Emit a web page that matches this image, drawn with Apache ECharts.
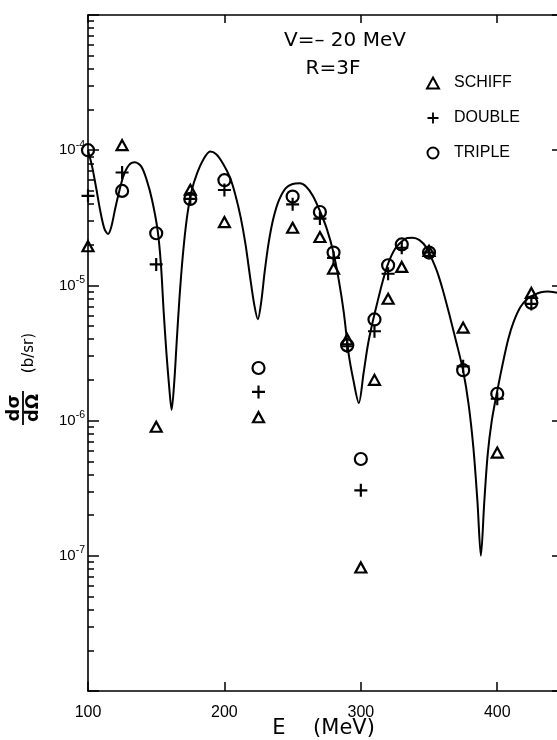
<!DOCTYPE html>
<html>
<head>
<meta charset="utf-8">
<script src="https://cdn.jsdelivr.net/npm/echarts@6/dist/echarts.min.js"></script>
<style>
html,body{margin:0;padding:0;background:#fff}
#c{width:557px;height:740px}
</style>
</head>
<body>
<div id="c"></div>
<script>
// ---- data ----
const energies = [100,125,150,175,200,225,250,270,280,290,300,310,320,330,350,375,400,425];
const schiff = [1.95e-5,1.09e-4,9.0e-7,5.1e-5,2.94e-5,1.06e-6,2.67e-5,2.28e-5,1.33e-5,4.0e-6,8.2e-8,2.0e-6,7.96e-6,1.37e-5,1.8e-5,4.87e-6,5.8e-7,8.8e-6];
const doubleScat = [4.6e-5,6.84e-5,1.43e-5,4.36e-5,5.08e-5,1.63e-6,3.98e-5,3.12e-5,1.6e-5,3.55e-6,3.05e-7,4.58e-6,1.22e-5,1.9e-5,1.75e-5,2.52e-6,1.45e-6,7.3e-6];
const tripleScat = [1.0e-4,5.0e-5,2.43e-5,4.36e-5,6.0e-5,2.45e-6,4.54e-5,3.49e-5,1.75e-5,3.6e-6,5.2e-7,5.6e-6,1.41e-5,2.01e-5,1.75e-5,2.36e-6,1.58e-6,7.45e-6];

const curveE = [100,103,106,109,112,114.7,117,120,123,126,130,134.4,139,143,147,151,153.5,155.5,157.5,159.5,161.3,163.2,165,167,169.5,172.5,176,180,184.5,189.5,194,199,204,208,212,215.5,219,222,224.5,227,229.5,232.5,236,240,245,250,255.3,260,265,270,275,280,284,287.5,291,294.5,298.5,302,305,308,312,316,320,325,330,334,338,343,348,352,356,360,365,370,375,379,382.5,385.5,388,390.5,393,396,400,404,408,412,417,422,427,432,437,442,446];
const curveV = [1.00e-4,7.59e-5,5.25e-5,3.55e-5,2.63e-5,2.40e-5,2.69e-5,3.72e-5,5.01e-5,6.46e-5,7.76e-5,8.13e-5,7.59e-5,6.03e-5,4.27e-5,2.57e-5,1.41e-5,6.31e-6,3.16e-6,1.78e-6,1.20e-6,1.91e-6,3.80e-6,7.94e-6,1.66e-5,3.16e-5,5.01e-5,6.76e-5,8.51e-5,9.77e-5,9.33e-5,7.94e-5,6.31e-5,4.68e-5,3.16e-5,2.00e-5,1.12e-5,7.08e-6,5.62e-6,7.59e-6,1.26e-5,2.09e-5,3.16e-5,4.27e-5,5.25e-5,5.62e-5,5.69e-5,5.37e-5,4.57e-5,3.55e-5,2.63e-5,1.74e-5,1.07e-5,6.31e-6,3.16e-6,2.00e-6,1.35e-6,2.24e-6,3.55e-6,5.01e-6,7.41e-6,1.07e-5,1.45e-5,1.86e-5,2.11e-5,2.24e-5,2.25e-5,2.16e-5,1.91e-5,1.58e-5,1.26e-5,9.33e-6,6.03e-6,3.80e-6,2.34e-6,1.32e-6,6.31e-7,2.51e-7,1.00e-7,2.51e-7,5.62e-7,1.00e-6,1.66e-6,2.63e-6,3.98e-6,5.37e-6,6.92e-6,7.94e-6,8.51e-6,8.91e-6,9.02e-6,8.91e-6,8.71e-6];

const seriesNames = ['SCHIFF','DOUBLE','TRIPLE'];
const xTickLabels = ['100','200','300','400'];

// minor tick positions (exponent space) for multiples 2..9 of each decade
const minorTickExps = [];
for (let n = -8; n < -3; n++) {
  for (let k = 2; k <= 9; k++) minorTickExps.push(n + Math.log10(k));
}

const pair = (xs, ys) => xs.map((x, i) => [x, ys[i]]);

const FONT = 'Liberation Sans';
const axisLine = { show: true, lineStyle: { color: '#000', width: 1.6 } };
const tickStyle = { color: '#000', width: 1.5 };
const center = { textAlign: 'center', textVerticalAlign: 'middle', align: 'center', verticalAlign: 'middle', fill: '#000' };

const chart = echarts.init(document.getElementById('c'), null, { renderer: 'canvas' });
chart.setOption({
  backgroundColor: '#fff',
  animation: false,
  grid: { left: 88, top: 15, width: 472, height: 676, containLabel: false, outerBoundsMode: 'none' },
  legend: {
    data: seriesNames,
    orient: 'vertical',
    left: 426, top: 75, padding: 0,
    itemGap: 19, itemWidth: 12, itemHeight: 11,
    selectedMode: false,
    textStyle: { fontSize: 16, fontFamily: FONT, color: '#000', lineHeight: 16, padding: [0, 0, 0, 10] }
  },
  xAxis: [
    {
      type: 'value', min: 100, max: 446, interval: 100, position: 'bottom',
      axisLine: axisLine,
      axisTick: { inside: true, length: 9, lineStyle: tickStyle },
      axisLabel: { color: '#000', fontSize: 16, fontFamily: FONT, margin: 14, showMaxLabel: false,
        formatter: v => (Math.abs(v % 100) < 1e-6 ? (xTickLabels[Math.round((v - 100) / 100)] || '') : '') },
      splitLine: { show: false }
    },
    {
      type: 'value', min: 100, max: 446, interval: 100, position: 'top',
      axisLine: axisLine,
      axisTick: { inside: true, length: 8, lineStyle: tickStyle },
      axisLabel: { show: false },
      splitLine: { show: false }
    }
  ],
  yAxis: [
    {
      type: 'log', logBase: 10, min: 1e-8, max: 1e-3, position: 'left',
      axisLine: axisLine,
      axisTick: { inside: true, length: 11, lineStyle: tickStyle },
      axisLabel: {
        margin: 3, color: '#000',
        formatter: v => {
          const e = Math.round(Math.log10(v));
          if (e <= -8 || e >= -3) return '';
          return '{b|10}{s|' + e + '}';
        },
        rich: {
          b: { fontSize: 15, fontFamily: FONT, color: '#000', lineHeight: 22 },
          s: { fontSize: 10.5, fontFamily: FONT, color: '#000', lineHeight: 11, verticalAlign: 'top' }
        }
      },
      splitLine: { show: false }
    },
    {
      type: 'value', min: -8, max: -3, position: 'left',
      axisLine: { show: false },
      axisTick: { inside: true, length: 6, lineStyle: tickStyle, customValues: minorTickExps },
      axisLabel: { show: false },
      splitLine: { show: false }
    },
    {
      type: 'log', logBase: 10, min: 1e-8, max: 1e-3, position: 'right',
      axisLine: axisLine,
      axisTick: { inside: true, length: 8, lineStyle: tickStyle },
      axisLabel: { show: false },
      splitLine: { show: false }
    }
  ],
  series: [
    {
      name: 'theory', type: 'line', data: pair(curveE, curveV),
      showSymbol: false, symbol: 'none', smooth: 0.3,
      lineStyle: { color: '#000', width: 2 }, z: 2
    },
    {
      name: 'SCHIFF', type: 'scatter', data: pair(energies, schiff),
      symbol: 'triangle', symbolSize: [11, 10],
      itemStyle: { color: 'rgba(255,255,255,0)', borderColor: '#000', borderWidth: 2.2, opacity: 1 }, z: 3
    },
    {
      name: 'DOUBLE', type: 'scatter', data: pair(energies, doubleScat),
      symbol: 'path://M5,0H7V5H12V7H7V12H5V7H0V5H5Z', symbolSize: 13,
      itemStyle: { color: '#000', opacity: 1 }, z: 3
    },
    {
      name: 'TRIPLE', type: 'scatter', data: pair(energies, tripleScat),
      symbol: 'circle', symbolSize: 12,
      itemStyle: { color: 'rgba(255,255,255,0)', borderColor: '#000', borderWidth: 2.2, opacity: 1 }, z: 3
    }
  ],
  graphic: [
    { type: 'text', x: 345, y: 41, style: Object.assign({ text: 'V=– 20 MeV', font: '20px "DejaVu Sans"' }, center) },
    { type: 'text', x: 333, y: 69, style: Object.assign({ text: 'R=3F', font: '20px "DejaVu Sans"' }, center) },
    { type: 'text', x: 279, y: 729, style: Object.assign({ text: 'E', font: '21px "DejaVu Sans"' }, center) },
    { type: 'text', x: 344, y: 729, style: Object.assign({ text: '(MeV)', font: '21px "DejaVu Sans"' }, center) },
    {
      type: 'group', x: 23, y: 408, rotation: Math.PI / 2,
      children: [
        { type: 'text', x: 0, y: -9, style: Object.assign({ text: 'dσ', font: 'bold 18px "DejaVu Sans"' }, center) },
        { type: 'line', shape: { x1: -17, y1: 0, x2: 17, y2: 0 }, style: { stroke: '#000', lineWidth: 1.8 } },
        { type: 'text', x: 0, y: 10, style: Object.assign({ text: 'dΩ', font: 'bold 18px "DejaVu Sans"' }, center) }
      ]
    },
    { type: 'text', x: 29, y: 353, rotation: Math.PI / 2, style: Object.assign({ text: '(b/sr)', font: '15px "DejaVu Sans"' }, center) }
  ]
});
</script>
</body>
</html>
